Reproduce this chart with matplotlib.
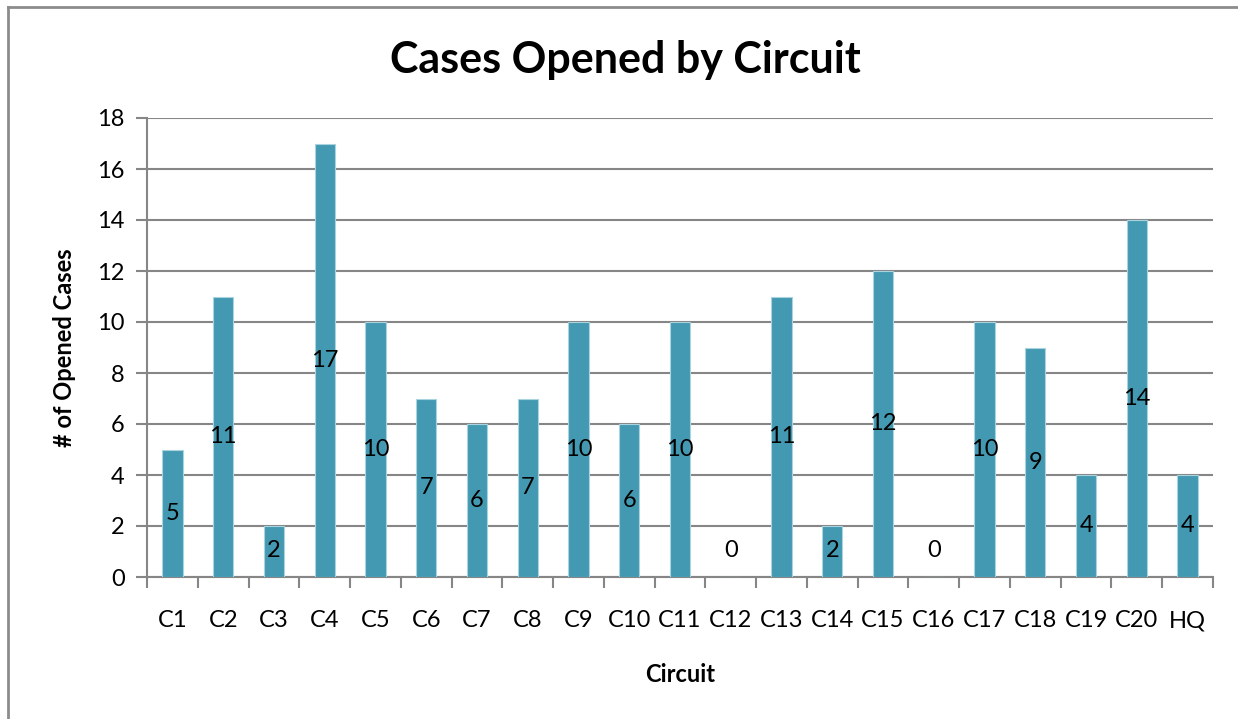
import matplotlib.pyplot as plt
from matplotlib.lines import Line2D

circuits = ['C1', 'C2', 'C3', 'C4', 'C5', 'C6', 'C7', 'C8', 'C9', 'C10', 'C11',
            'C12', 'C13', 'C14', 'C15', 'C16', 'C17', 'C18', 'C19', 'C20', 'HQ']
cases = [5, 11, 2, 17, 10, 7, 6, 7, 10, 6, 10, 0, 11, 2, 12, 0, 10, 9, 4, 14, 4]
y_ticks = [0, 2, 4, 6, 8, 10, 12, 14, 16, 18]

plt.rcParams['font.family'] = ['Lato', 'DejaVu Sans']
grey = '#868686'

fig = plt.figure(figsize=(12.38, 7.19), dpi=100)
ax = fig.add_axes([147/1238, 1 - 577/719, (1213 - 147)/1238, (577 - 118)/719])

x = list(range(len(circuits)))
ax.bar(x, cases, width=0.4, color='#4399B1', edgecolor='#A9D3DF', linewidth=0.8, zorder=3)

for xi, v in zip(x, cases):
    ax.text(xi, max(v / 2, 1.05), str(v), ha='center', va='center', fontsize=17, zorder=4)

ax.set_xlim(-0.5, len(circuits) - 0.5)
ax.set_ylim(0, 18)
ax.set_yticks(y_ticks)
ax.yaxis.grid(True, color=grey, linewidth=1.5, zorder=0)
ax.set_axisbelow(True)

ax.set_xticks([i + 0.5 for i in range(-1, len(circuits))], minor=True)
ax.set_xticks(x)
ax.set_xticklabels(circuits)
ax.tick_params(axis='x', which='major', length=0, pad=24, labelsize=17)
ax.tick_params(axis='x', which='minor', length=8, width=1.5, color=grey)
ax.tick_params(axis='y', length=8, width=1.5, color=grey, labelsize=17, pad=8)

for side in ['top', 'right']:
    ax.spines[side].set_visible(False)
for side in ['left', 'bottom']:
    ax.spines[side].set_color(grey)
    ax.spines[side].set_linewidth(1.5)

ax.set_xlabel('Circuit', fontsize=17, fontweight='bold', labelpad=23)
ax.set_ylabel('# of Opened Cases', fontsize=17, fontweight='bold', labelpad=15)
fig.text(625/1238, 1 - 60/719, 'Cases Opened by Circuit', ha='center', va='center',
         fontsize=31, fontweight='bold')

# chart frame (only left and top edges are visible in the picture)
fig.add_artist(Line2D([8/1238, 8/1238], [0, 1 - 7/719], color='#8c8c8c', linewidth=2))
fig.add_artist(Line2D([8/1238, 1], [1 - 7/719, 1 - 7/719], color='#8c8c8c', linewidth=2))

fig.savefig('out.png', dpi=100)
